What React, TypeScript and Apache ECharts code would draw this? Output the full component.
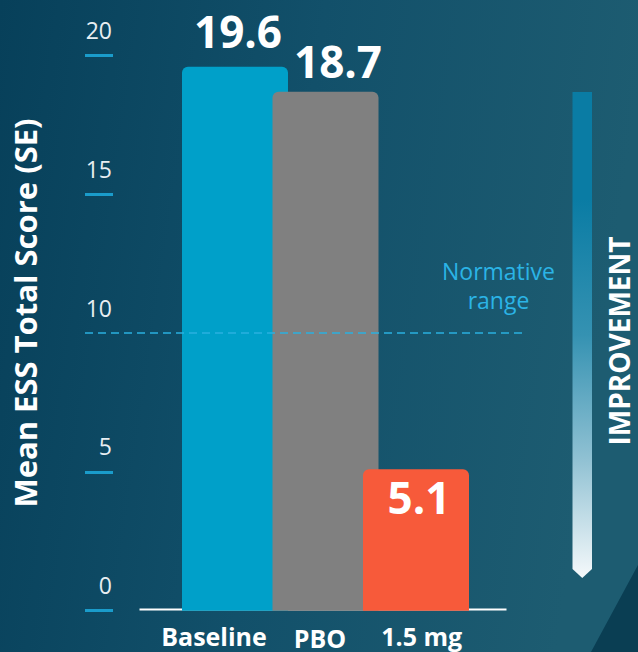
import React, { useEffect, useRef } from "react";
import * as echarts from "echarts";

const categories = ["Baseline", "PBO", "1.5 mg"];
const meanScores = [19.6, 18.7, 5.1];
const barColors = ["#00A0C9", "#808080", "#F75A3A"];
const yTickMarks = [0, 5, 15, 20];
const normativeLimit = 10;
const yTitle = "Mean ESS Total Score (SE)";
const normativeText = "Normative\nrange";
const arrowText = "IMPROVEMENT";

const FONT = "'Open Sans', 'Noto Sans', sans-serif";

export default function App() {
  const ref = useRef<HTMLDivElement>(null);

  useEffect(() => {
    document.body.style.margin = "0";
    const chart = echarts.init(ref.current as HTMLDivElement, null, { renderer: "svg" });

    const labelPadding = [
      [0, 0, 0, 18.4],
      [2, 11, 0, 0],
      [0, 49, 0, 0],
    ];
    const rich: Record<string, any> = {};
    labelPadding.forEach((p, i) => {
      rich["c" + i] = {
        color: "#FFFFFF",
        fontFamily: FONT,
        fontWeight: "bold",
        fontSize: 25,
        padding: p,
      };
    });

    const labelTweaks = [
      { position: "top", distance: 14, offset: [3, 0] },
      { position: "top", distance: 9, offset: [12.5, 0] },
      { position: "insideTop", distance: 6, offset: [3, 0] },
    ];

    const series = categories.map((name, i) => ({
      type: "bar",
      name,
      xAxisIndex: 0,
      barWidth: 106,
      barGap: "-14.62%",
      data: [meanScores[i]],
      itemStyle: { color: barColors[i], borderRadius: [6, 6, 0, 0] },
      label: {
        show: true,
        color: "#FFFFFF",
        fontFamily: FONT,
        fontWeight: "bold",
        fontSize: 44,
        ...labelTweaks[i],
      },
      ...(i === 0
        ? {
            markLine: {
              silent: true,
              symbol: ["none", "none"],
              label: { show: false },
              lineStyle: { color: "#2AB0E0", width: 1.5, type: [8, 5] },
              data: [[{ x: 85, yAxis: normativeLimit }, { x: 523, yAxis: normativeLimit }]],
            },
          }
        : {}),
    }));

    chart.setOption({
      animation: false,
      grid: { left: 144.5, right: 131.5, top: 55.7, bottom: 41.3 },
      xAxis: [
        {
          type: "category",
          data: ["ESS"],
          axisLine: { show: false },
          axisTick: { show: false },
          axisLabel: { show: false },
        },
        {
          type: "category",
          data: categories,
          position: "bottom",
          axisLine: { show: false },
          axisTick: { show: false },
          axisLabel: {
            margin: 13,
            interval: 0,
            formatter: (v: string, i: number) => `{c${i}|${v}}`,
            rich,
          },
        },
      ],
      yAxis: {
        type: "value",
        min: 0,
        max: 20,
        interval: 5,
        offset: 31.5,
        axisLine: { show: false },
        splitLine: { show: false },
        axisTick: {
          show: true,
          length: 28,
          customValues: yTickMarks,
          lineStyle: { color: "#1A9CCB", width: 3 },
        },
        axisLabel: {
          margin: 1,
          verticalAlign: "bottom",
          padding: [0, 0, 14, 0],
          color: "#E8EEF2",
          fontSize: 23,
          fontFamily: FONT,
        },
      },
      series,
      graphic: [
        {
          type: "rect",
          z: -100,
          silent: true,
          shape: { x: 0, y: 0, width: 638, height: 652 },
          style: {
            fill: {
              type: "linear",
              x: 0,
              y: 0,
              x2: 1,
              y2: 0.15,
              colorStops: [
                { offset: 0, color: "#07405A" },
                { offset: 0.5, color: "#12506A" },
                { offset: 1, color: "#1D5C71" },
              ],
            },
          },
        },
        {
          type: "polygon",
          z: -90,
          silent: true,
          shape: { points: [[591, 652], [638, 565], [638, 652]] },
          style: { fill: "#0A3E53" },
        },
        {
          type: "polygon",
          silent: true,
          shape: {
            points: [[572.5, 92], [592, 92], [592, 569], [582.25, 578], [572.5, 569]],
          },
          style: {
            fill: {
              type: "linear",
              x: 0,
              y: 0,
              x2: 0,
              y2: 1,
              colorStops: [
                { offset: 0, color: "#0A7CA4" },
                { offset: 0.22, color: "#0A7CA4" },
                { offset: 0.5, color: "#3592B2" },
                { offset: 0.75, color: "#8EC0D2" },
                { offset: 1, color: "#F5F9FB" },
              ],
            },
          },
        },
        {
          type: "text",
          silent: true,
          x: 619,
          y: 341,
          rotation: Math.PI / 2,
          style: {
            text: arrowText,
            fill: "#FFFFFF",
            font: `bold 28px ${FONT}`,
            textAlign: "center",
            textVerticalAlign: "middle",
          },
        },
        {
          type: "text",
          silent: true,
          x: 25,
          y: 313,
          rotation: Math.PI / 2,
          style: {
            text: yTitle,
            fill: "#FFFFFF",
            font: `bold 31px ${FONT}`,
            textAlign: "center",
            textVerticalAlign: "middle",
          },
        },
        {
          type: "text",
          silent: true,
          x: 498.5,
          y: 256,
          style: {
            text: normativeText,
            fill: "#2BB4E6",
            font: `23px ${FONT}`,
            lineHeight: 29,
            textAlign: "center",
            textVerticalAlign: "top",
          },
        },
        {
          type: "line",
          silent: true,
          shape: { x1: 139.5, y1: 609.5, x2: 506.5, y2: 609.5 },
          style: { stroke: "#FFFFFF", lineWidth: 2 },
        },
      ],
    });

    return () => chart.dispose();
  }, []);

  return <div ref={ref} style={{ width: 638, height: 652 }} />;
}
